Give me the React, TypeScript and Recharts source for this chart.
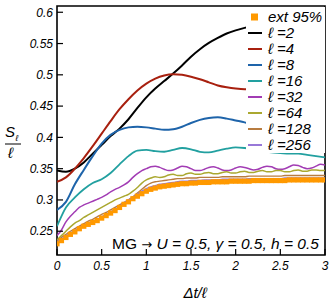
import React from 'react';
import { ComposedChart, Line, Scatter, XAxis, YAxis, ReferenceArea, Legend, Customized } from 'recharts';

const T10 = Array.from({ length: 31 }, (_, i) => +(i * 0.1).toFixed(2));
const T05 = Array.from({ length: 61 }, (_, i) => +(i * 0.05).toFixed(2));

const xTicks = [0, 0.5, 1, 1.5, 2, 2.5, 3];
const yTicks = [0.25, 0.3, 0.35, 0.4, 0.45, 0.5, 0.55, 0.6];
const xMinorTicks = Array.from({ length: 31 }, (_, i) => +(i * 0.1).toFixed(2));
const yMinorTicks = Array.from({ length: 40 }, (_, i) => +(0.22 + i * 0.01).toFixed(2));

const l2 = [0.347,0.345,0.350,0.360,0.374,0.388,0.402,0.414,0.429,0.447,0.464,0.478,0.490,0.502,0.515,0.529,0.541,0.551,0.559,0.566,0.571,0.575,0.578,0.580,0.582,0.583,0.584,0.585,0.585,0.586,0.586];
const l4 = [0.329,0.336,0.350,0.367,0.386,0.406,0.426,0.445,0.461,0.475,0.486,0.494,0.499,0.501,0.500,0.497,0.493,0.488,0.483,0.480,0.478,0.477,0.477,0.478,0.480,0.482,0.484,0.485,0.485,0.484,0.483];
const l8 = [0.284,0.297,0.325,0.348,0.370,0.390,0.404,0.412,0.416,0.417,0.416,0.414,0.412,0.413,0.417,0.423,0.428,0.431,0.432,0.430,0.427,0.424,0.420,0.418,0.418,0.420,0.423,0.426,0.428,0.428,0.427];
const l16 = [0.258,0.288,0.304,0.317,0.327,0.333,0.343,0.357,0.370,0.379,0.380,0.378,0.377,0.380,0.383,0.381,0.377,0.376,0.379,0.382,0.384,0.383,0.381,0.378,0.376,0.375,0.374,0.374,0.372,0.370,0.368];
const l32 = [0.243,0.252,0.265,0.274,0.281,0.288,0.292,0.295,0.298,0.301,0.304,0.308,0.313,0.317,0.320,0.324,0.329,0.336,0.342,0.347,
  0.350,0.353,0.354,0.352,0.349,0.347,0.348,0.351,0.354,0.353,0.350,0.347,0.347,0.349,0.352,0.353,0.351,0.348,0.347,0.348,0.351,0.353,0.352,0.350,0.348,0.349,0.352,0.354,0.353,0.350,0.349,0.350,0.353,0.356,0.355,0.352,0.350,0.351,0.354,0.357,0.356];
const l64 = [0.236,0.243,0.250,0.257,0.263,0.267,0.272,0.276,0.280,0.284,0.288,0.292,0.296,0.300,0.303,0.306,0.309,0.314,0.320,0.327,0.332,
  0.335,0.337,0.336,0.337,0.340,0.341,0.339,0.339,0.342,0.343,0.341,0.341,0.343,0.344,0.342,0.342,0.344,0.345,0.343,0.343,0.345,0.346,0.344,0.344,0.346,0.347,0.345,0.345,0.347,0.347,0.345,0.345,0.347,0.348,0.346,0.346,0.348,0.348,0.347,0.347];
const l128 = [0.234,0.240,0.245,0.250,0.254,0.258,0.262,0.266,0.269,0.273,0.277,0.280,0.284,0.288,0.292,0.296,0.300,0.305,0.311,0.317,0.323,0.327,0.329,0.330,0.331,0.332,0.333,0.334,0.334,0.335,0.335,
  0.335,0.336,0.336,0.336,0.336,0.336,0.337,0.337,0.337,0.337,0.337,0.337,0.338,0.338,0.338,0.338,0.338,0.338,0.338,0.338,0.339,0.339,0.339,0.339,0.339,0.339,0.339,0.339,0.339,0.339];
const l256 = [0.232,0.237,0.242,0.247,0.251,0.256,0.260,0.263,0.266,0.269,0.273,0.277,0.281,0.285,0.290,0.295,0.300,0.304,0.309,0.314,0.318,0.321,0.323,0.325,0.326,0.327,0.328,0.329,0.330,0.330,0.331,
  0.331,0.331,0.332,0.332,0.332,0.332,0.333,0.333,0.333,0.333,0.333,0.333,0.334,0.334,0.334,0.334,0.334,0.334,0.334,0.334,0.335,0.335,0.335,0.335,0.335,0.335,0.335,0.335,0.335,0.335];
const ext95 = [0.230,0.235,0.240,0.245,0.249,0.254,0.258,0.261,0.264,0.267,0.271,0.275,0.279,0.283,0.288,0.293,0.297,0.302,0.306,0.310,0.314,0.317,0.319,0.321,0.322,0.323,0.324,0.325,0.326,0.326,0.327,
  0.327,0.328,0.328,0.328,0.329,0.329,0.329,0.329,0.330,0.330,0.330,0.330,0.330,0.331,0.331,0.331,0.331,0.331,0.331,0.331,0.331,0.332,0.332,0.332,0.332,0.332,0.332,0.332,0.332,0.332];

const mk = (ts: number[], vs: number[]) => ts.map((t, i) => ({ t, v: vs[i] }));

const lines = [
  { name: 'ℓ =2', color: '#000000', width: 2, data: mk(T10, l2) },
  { name: 'ℓ =4', color: '#a8200f', width: 2, data: mk(T10, l4) },
  { name: 'ℓ =8', color: '#1e64aa', width: 2, data: mk(T10, l8) },
  { name: 'ℓ =16', color: '#22a0a0', width: 1.8, data: mk(T10, l16) },
  { name: 'ℓ =32', color: '#a23cb4', width: 1.5, data: mk(T05, l32) },
  { name: 'ℓ =64', color: '#aaa830', width: 1.5, data: mk(T05, l64) },
  { name: 'ℓ =128', color: '#b87c40', width: 1.4, data: mk(T05, l128) },
  { name: 'ℓ =256', color: '#9878d8', width: 1.4, data: mk(T05, l256) },
];
const extData = mk(T05, ext95);
const extColor = '#ff9900';

const FONT = '"Liberation Sans", Arial, Helvetica, sans-serif';

const Square = (p: any) => (
  <rect x={p.cx - 2.6} y={p.cy - 2.6} width={5.2} height={5.2} fill={extColor} />
);

const LegendBox = () => (
  <div style={{ background: '#fff', width: 79, height: 146, paddingTop: 2, boxSizing: 'border-box', fontFamily: FONT, fontStyle: 'italic', fontSize: 15 }}>
    <div style={{ display: 'flex', alignItems: 'center', height: 16 }}>
      <svg width={22} height={16} style={{ flex: 'none' }}>
        <rect x={5} y={4.5} width={7} height={7} fill={extColor} />
      </svg>
      <span style={{ lineHeight: '16px', whiteSpace: 'nowrap' }}>ext 95%</span>
    </div>
    {lines.map((l) => (
      <div key={l.name} style={{ display: 'flex', alignItems: 'center', height: 16 }}>
        <svg width={22} height={16} style={{ flex: 'none' }}>
          <line x1={2} x2={16} y1={8} y2={8} stroke={l.color} strokeWidth={2} />
        </svg>
        <span style={{ lineHeight: '16px', whiteSpace: 'nowrap' }}>{l.name}</span>
      </div>
    ))}
  </div>
);

const Texts = () => (
  <g fontFamily={FONT}>
    <text x={112} y={249} fontSize={15.5} fill="#000">
      <tspan>MG </tspan>
      <tspan fontFamily='"DejaVu Sans", sans-serif' fontSize={13}>→</tspan>
      <tspan fontStyle="italic"> U = 0.5, γ = 0.5, h = 0.5</tspan>
    </text>
    <text x={195} y={298} fontSize={15} fontStyle="italic" textAnchor="middle" fill="#000">Δt/ℓ</text>
    <text x={5} y={137} fontSize={15} fontStyle="italic" fill="#000">S</text>
    <text x={15.5} y={141} fontSize={8.5} fontStyle="italic" fill="#000">ℓ</text>
    <line x1={5} x2={21} y1={144} y2={144} stroke="#000" strokeWidth={1} />
    <text x={8} y={158} fontSize={15} fontStyle="italic" fill="#000">ℓ</text>
  </g>
);

const tickStyle = { fontFamily: FONT, fontStyle: 'italic', fontSize: 12, fill: '#000' };

export default function App() {
  return (
    <div style={{ position: 'absolute', left: 0, top: 0, width: 332, height: 307, background: '#fff' }}>
      <ComposedChart width={332} height={307} margin={{ top: 6, right: 7, bottom: 12, left: 7 }}>
        <XAxis xAxisId="minor" type="number" dataKey="t" domain={[0, 3]} ticks={xMinorTicks} interval={0}
          height={0} tick={false} axisLine={false} tickSize={-3} tickLine={{ stroke: '#000', strokeWidth: 1 }} allowDataOverflow />
        <XAxis type="number" dataKey="t" domain={[0, 3]} ticks={xTicks} interval={0} height={40}
          tick={tickStyle} axisLine={false} tickSize={-6} tickMargin={12} tickLine={{ stroke: '#000', strokeWidth: 1.2 }} allowDataOverflow />
        <YAxis yAxisId="minor" type="number" domain={[0.212, 0.61]} ticks={yMinorTicks} interval={0}
          width={0} tick={false} axisLine={false} tickSize={-3} tickLine={{ stroke: '#000', strokeWidth: 1 }} allowDataOverflow />
        <YAxis type="number" domain={[0.212, 0.61]} ticks={yTicks} interval={0} width={50}
          tick={tickStyle} axisLine={false} tickSize={-6} tickMargin={10} tickLine={{ stroke: '#000', strokeWidth: 1.2 }} allowDataOverflow />
        <Scatter data={extData} dataKey="v" fill={extColor} shape={Square} isAnimationActive={false} legendType="square" name="ext 95%" />
        {lines.map((l) => (
          <Line key={l.name} data={l.data} dataKey="v" type="monotone" stroke={l.color} strokeWidth={l.width}
            dot={false} activeDot={false} isAnimationActive={false} name={l.name} />
        ))}
        <ReferenceArea x1={0} x2={3} y1={0.212} y2={0.61} fill="none" stroke="#000" strokeWidth={1.6} ifOverflow="visible" />
        <Legend layout="vertical" align="center" verticalAlign="middle" content={<LegendBox />}
          wrapperStyle={{ left: 246, top: 7, width: 79, height: 146 }} />
        <Customized component={Texts} />
      </ComposedChart>
    </div>
  );
}
